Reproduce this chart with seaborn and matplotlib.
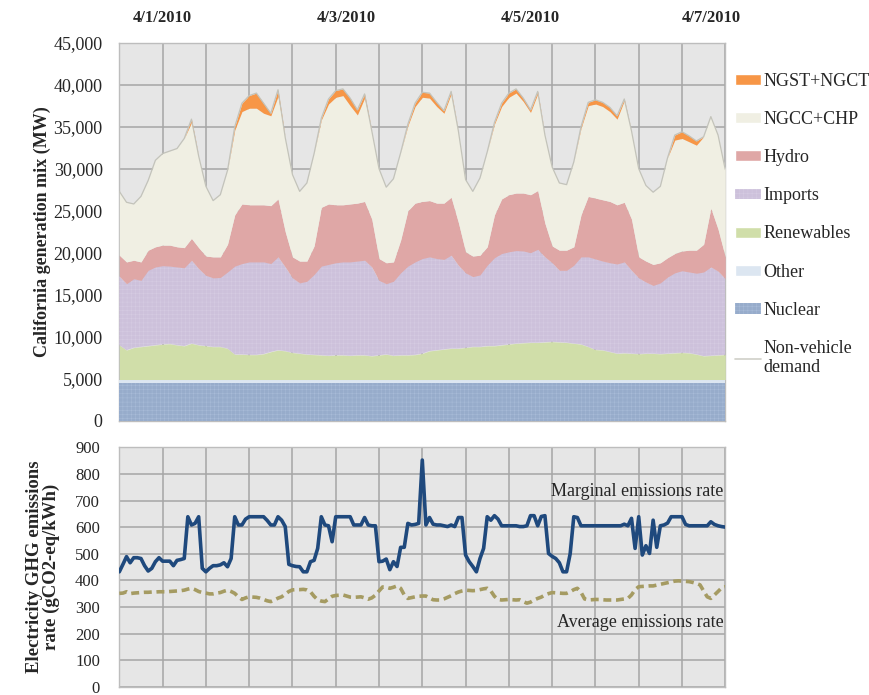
import numpy as np
import matplotlib
matplotlib.use("Agg")
import matplotlib.pyplot as plt
import seaborn as sns
from matplotlib.patches import Patch
from matplotlib.lines import Line2D
from matplotlib.ticker import FuncFormatter

# --- generation mix, every 2 hours over the week (MW, upper edge of each band) ---
hours = list(range(0, 169, 2))

demand = [27300, 26000, 25800, 26700, 28600, 31000, 31800, 32100, 32400, 33600,
          35900, 31500, 27900, 26200, 26900, 29800, 35000, 37800, 38700, 39000,
          37800, 36600, 39400, 33700, 29300, 27300, 28300, 31800, 36000, 38300,
          39300, 39500, 38400, 37000, 38900, 34500, 30000, 27800, 28800, 31900,
          35300, 37800, 39100, 39000, 37900, 36900, 39200, 34500, 28700, 27300,
          28900, 32000, 35500, 37800, 39000, 39500, 38400, 37000, 39200, 34000,
          30200, 28300, 28100, 30800, 35000, 37900, 38200, 37900, 37300, 36300,
          38300, 34500, 30000, 28000, 27200, 27900, 31300, 34000, 34400, 33900,
          33300, 33800, 36200, 34000, 29900]

ngst = [0, 0, 0, 0, 0, 0, 0, 0, 0, 0,
        400, 0, 0, 0, 0, 0, 400, 1000, 1500, 1800,
        1200, 300, 800, 0, 0, 0, 0, 0, 200, 600,
        800, 800, 900, 600, 500, 0, 0, 0, 0, 0,
        200, 400, 600, 600, 500, 300, 300, 0, 0, 0,
        0, 0, 200, 400, 500, 500, 400, 300, 300, 0,
        0, 0, 0, 0, 200, 400, 500, 500, 500, 400,
        200, 0, 0, 0, 0, 0, 0, 600, 800, 700,
        500, 0, 0, 0, 0]

hydro_top = [19700, 18900, 19100, 18900, 20300, 20700, 20900, 20900, 20700, 20600,
             21700, 20600, 19600, 19500, 19500, 21000, 24500, 25800, 25700, 25700,
             25700, 25600, 26400, 22500, 19500, 19000, 19000, 20800, 25400, 25800,
             25700, 25700, 25800, 25900, 26100, 24000, 19300, 18800, 18900, 21500,
             25000, 25900, 26100, 26200, 25900, 25900, 26600, 23600, 20100, 19600,
             19700, 20700, 24500, 26400, 26900, 27100, 27100, 26900, 27400, 23500,
             20800, 20300, 20300, 20700, 24500, 26700, 26500, 26300, 26100, 25700,
             26000, 24000, 19500, 19000, 18600, 18800, 19400, 19900, 20200, 20300,
             20300, 21000, 25300, 22800, 19500]

imports_top = [17200, 16300, 16900, 16700, 17900, 18300, 18450, 18400, 18300, 18200,
               19100, 18100, 17300, 17000, 17050, 17700, 18400, 18700, 18900, 18900,
               18900, 18700, 19500, 18300, 17000, 16400, 16600, 17400, 18400, 18600,
               18800, 18900, 18900, 19000, 19100, 18300, 16700, 16300, 16600, 17600,
               18400, 18900, 19300, 19500, 19300, 19200, 19700, 18500, 17600, 17150,
               17350, 18500, 19400, 19900, 20100, 20250, 20200, 20000, 20400, 19500,
               18800, 17900, 17900, 18500, 19500, 19500, 19250, 19000, 18800, 18650,
               18900, 17900, 17000, 16500, 16100, 16400, 17100, 17600, 17850, 17700,
               17550, 17700, 18300, 17800, 16900]

renew_top = [9000, 8400, 8700, 8800, 8900, 9000, 9100, 9150, 9000, 8900,
             9200, 9000, 8900, 8800, 8800, 8600, 7900, 7900, 7850, 7850,
             7950, 8200, 8400, 8300, 8100, 8000, 7900, 7850, 7800, 7750,
             7800, 7800, 7750, 7800, 7800, 7700, 7800, 7900, 7750, 7800,
             7800, 7850, 8000, 8300, 8400, 8500, 8600, 8600, 8700, 8800,
             8800, 8900, 8900, 9000, 9100, 9200, 9250, 9300, 9300, 9350,
             9400, 9350, 9300, 9200, 9100, 8800, 8450, 8400, 8200, 8000,
             8050, 8000, 7950, 8000, 8000, 7950, 8000, 8050, 8100, 8050,
             7900, 7700, 7750, 7800, 7850]

other_top = 4900   # flat thin band
nuclear_mw = 4500  # flat

# --- emissions rates, hourly (gCO2-eq/kWh) ---
hours_1h = list(range(0, 169))

marginal = [432, 460, 489, 466, 485, 485, 482, 455, 435, 445,
            470, 485, 472, 472, 472, 455, 475, 478, 482, 639,
            608, 614, 639, 445, 432, 445, 455, 455, 458, 466,
            451, 482, 639, 608, 608, 630, 639, 639, 639, 639,
            639, 625, 608, 608, 639, 626, 602, 460, 455, 452,
            451, 432, 432, 470, 475, 520, 639, 608, 605, 545,
            639, 639, 639, 639, 639, 608, 608, 608, 636, 608,
            605, 605, 470, 472, 480, 440, 470, 452, 524, 524,
            614, 608, 610, 614, 852, 608, 636, 611, 608, 608,
            605, 602, 608, 602, 636, 636, 495, 470, 452, 432,
            482, 520, 639, 626, 643, 630, 605, 605, 605, 605,
            605, 602, 602, 605, 643, 643, 605, 640, 643, 501,
            490, 482, 466, 432, 432, 500, 639, 636, 605, 605,
            605, 605, 605, 605, 605, 605, 605, 605, 605, 605,
            611, 605, 633, 520, 639, 495, 530, 501, 626, 524,
            605, 608, 615, 639, 639, 639, 639, 610, 605, 605,
            605, 605, 605, 605, 620, 610, 605, 602, 600]

average = [351, 352, 357, 350, 352, 353, 354, 355, 355, 356,
           356, 357, 357, 357, 358, 359, 360, 361, 363, 367,
           370, 365, 358, 354, 352, 349, 349, 352, 354, 359,
           363, 358, 351, 338, 328, 334, 338, 337, 336, 333,
           328, 323, 320, 326, 333, 338, 348, 358, 364, 365,
           365, 366, 364, 357, 340, 327, 322, 320, 330, 340,
           343, 344, 345, 341, 337, 336, 337, 338, 334, 329,
           334, 344, 360, 375, 374, 370, 374, 379, 370, 345,
           332, 335, 338, 340, 341, 341, 334, 327, 326, 326,
           330, 336, 342, 350, 356, 360, 363, 362, 361, 362,
           365, 368, 370, 360, 340, 328, 326, 327, 328, 327,
           326, 327, 320, 314, 318, 326, 332, 337, 345, 350,
           354, 353, 352, 351, 351, 357, 365, 370, 355, 330,
           326, 327, 328, 328, 327, 326, 326, 326, 326, 328,
           330, 332, 345, 365, 376, 377, 378, 379, 379, 382,
           385, 388, 391, 394, 397, 398, 397, 396, 395, 392,
           388, 383, 360, 338, 332, 345, 358, 372, 376]

date_labels = ["4/1/2010", "4/3/2010", "4/5/2010", "4/7/2010"]
date_pos = [12, 63, 114, 164]

labels = ["Nuclear", "Other", "Renewables", "Imports", "Hydro", "NGCC+CHP", "NGST+NGCT"]
colors = ["#97accb", "#dce6f1", "#d0dea9", "#cdc1db", "#dfa7a6", "#f0efe3", "#f79646"]

# build band thicknesses from the edges
d = np.array(demand, float)
ng = np.array(ngst, float)
n = len(hours)
layers = [
    np.full(n, nuclear_mw),
    np.full(n, other_top - nuclear_mw),
    np.array(renew_top) - other_top,
    np.array(imports_top) - np.array(renew_top),
    np.array(hydro_top) - np.array(imports_top),
    d - ng - np.array(hydro_top),
    ng,
]

sns.set_theme(style="white")
plt.rcParams["font.family"] = ["Liberation Serif", "DejaVu Serif"]
plt.rcParams["hatch.linewidth"] = 0.35

bg = "#e6e6e6"
gridc = "#a6a6a6"

fig = plt.figure(figsize=(8.69, 6.95), dpi=100)
ax = fig.add_axes([0.1373, 0.3947, 0.6973, 0.5439])
ax2 = fig.add_axes([0.1373, 0.0119, 0.6973, 0.3445])

# ---- top: generation mix ----
ax.set_facecolor(bg)
polys = ax.stackplot(hours, *layers, colors=colors, linewidth=0, zorder=3)
for p, hatch_c in ((polys[0], "#a9bcd8"), (polys[3], "#d6cce3")):
    p.set_hatch("++++")
    p.set_edgecolor(hatch_c)
    p.set_linewidth(0)
sns.lineplot(x=hours, y=demand, ax=ax, color="#c3c3ba", lw=0.9, zorder=4, legend=False)

ax.set_xlim(0, 168)
ax.set_ylim(0, 45000)
ax.set_xticks(range(0, 169, 12))
ax.set_yticks(range(0, 45001, 5000))
ax.grid(True, color=gridc, lw=1.1)
ax.set_axisbelow(True)
ax.tick_params(axis="x", length=0, labelbottom=False)
ax.tick_params(axis="y", length=0, pad=12, labelsize=13)
ax.yaxis.set_major_formatter(FuncFormatter(lambda v, _: f"{v:,.0f}"))
for s in ax.spines.values():
    s.set_color("#bdbdbd")
    s.set_linewidth(1)
ax.set_ylabel("California generation mix (MW)", fontsize=13, fontweight="bold")
ax.yaxis.set_label_coords(-0.113, 0.5)
if ax.get_legend() is not None:
    ax.get_legend().remove()

top = ax.secondary_xaxis("top")
top.set_xticks(date_pos)
top.set_xticklabels(date_labels, fontsize=12, fontweight="bold")
top.tick_params(length=0, pad=12)
top.spines["top"].set_visible(False)

handles = [Patch(facecolor=colors[6], label="NGST+NGCT"),
           Patch(facecolor=colors[5], label="NGCC+CHP"),
           Patch(facecolor=colors[4], label="Hydro"),
           Patch(facecolor=colors[3], label="Imports", hatch="++++", edgecolor="#d6cce3", lw=0),
           Patch(facecolor=colors[2], label="Renewables"),
           Patch(facecolor=colors[1], label="Other"),
           Patch(facecolor=colors[0], label="Nuclear", hatch="++++", edgecolor="#a9bcd8", lw=0),
           Line2D([], [], color="#d0d0c8", lw=1.2, label="Non-vehicle\ndemand")]
fig.legend(handles=handles, loc="upper left", bbox_to_anchor=(0.846, 0.895),
           frameon=False, fontsize=13, handlelength=1.45, handleheight=0.55,
           handletextpad=0.1, labelspacing=1.17, borderaxespad=0, borderpad=0)

# ---- bottom: emissions rates ----
ax2.set_facecolor(bg)
sns.lineplot(x=hours_1h, y=marginal, ax=ax2, color="#1f497d", lw=2.6, zorder=4, legend=False)
sns.lineplot(x=hours_1h, y=average, ax=ax2, color="#a59b62", lw=2.6,
             linestyle=(0, (2.2, 1.3)), zorder=4, legend=False)
ax2.set_xlim(0, 168)
ax2.set_ylim(0, 900)
ax2.set_xticks(range(0, 169, 12))
ax2.set_yticks(range(0, 901, 100))
ax2.grid(True, color=gridc, lw=1.1)
ax2.set_axisbelow(True)
ax2.tick_params(axis="x", length=0, labelbottom=False)
ax2.tick_params(axis="y", length=0, pad=14, labelsize=12)
for s in ax2.spines.values():
    s.set_color("#bdbdbd")
    s.set_linewidth(1)
ax2.set_ylabel("Electricity GHG emissions\nrate (gCO2-eq/kWh)", fontsize=13.5,
               fontweight="bold", linespacing=1.0)
ax2.yaxis.set_label_coords(-0.098, 0.5)

ax2.text(167.6, 732, "Marginal emissions rate", ha="right", va="center",
         fontsize=13, color="#262626", zorder=5)
ax2.text(167.6, 241, "Average emissions rate", ha="right", va="center",
         fontsize=13, color="#262626", zorder=5)

fig.savefig("out.png", dpi=100)
